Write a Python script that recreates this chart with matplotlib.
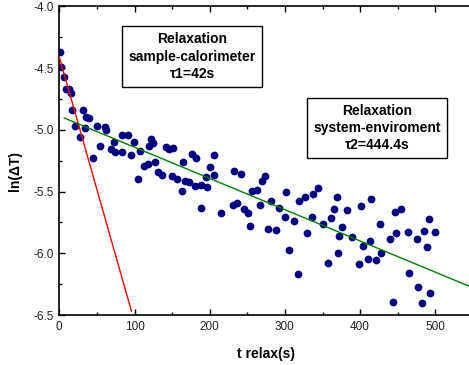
import matplotlib
matplotlib.use("Agg")
import matplotlib.pyplot as plt
from matplotlib.ticker import MultipleLocator

plt.rcParams['font.family'] = ['Liberation Sans', 'DejaVu Sans']
plt.rcParams['axes.unicode_minus'] = False

# ---- data ----
t_relax = [1, 2.3, 6.3, 8.9, 12.9, 15.2, 16.5, 31.1, 21.3, 35.5, 39.9, 34.2, 27.5, 49.7,
           60.8, 62.1, 54.1, 45.2, 68.1, 72.7, 74.1, 83.0, 91.4, 84.0, 99.3, 94.9, 107.3,
           104.0, 121.5, 125.0, 119.7, 112.6, 117.6, 127.3, 130.6, 136.6, 141.5, 145.9,
           151.6, 150.5, 156.5, 164.9, 167.6, 172.5, 162.8, 176.1, 181.8, 180.5, 188.4,
           196.0, 188.4, 194.7, 200.4, 205.7, 205.1, 214.6, 232.3, 241.2, 231.4, 236.3,
           245.6, 251.3, 253.6, 256.3, 262.5, 269.1, 273.5, 267.2, 281.5, 277.9, 287.8,
           292.4, 300.1, 301.5, 305.9, 312.5, 318.8, 326.1, 337.4, 343.6, 335.6, 329.8,
           317.0, 350.0, 360.9, 365.0, 368.9, 382.2, 401.2, 376.3, 371.5, 388.8, 403.9,
           370.2, 357.3, 398.5, 414.9, 413.6, 410.1, 421.1, 427.8, 426.1, 446.4, 454.4,
           447.7, 440.2, 463.7, 475.9, 485.4, 491.6, 499.6, 489.6, 465.0, 477.4, 492.6,
           443.4, 481.9]
ln_dT = [-4.373, -4.489, -4.571, -4.673, -4.668, -4.705, -4.840, -4.840, -4.968, -4.895,
         -4.908, -4.984, -5.062, -4.970, -4.981, -5.002, -5.130, -5.232, -5.152, -5.097,
         -5.181, -5.045, -5.045, -5.183, -5.100, -5.205, -5.173, -5.400, -5.078, -5.110,
         -5.130, -5.292, -5.278, -5.264, -5.340, -5.367, -5.138, -5.156, -5.151, -5.371,
         -5.397, -5.259, -5.416, -5.424, -5.497, -5.199, -5.232, -5.454, -5.446, -5.460,
         -5.632, -5.383, -5.300, -5.201, -5.367, -5.675, -5.332, -5.359, -5.610, -5.597,
         -5.644, -5.678, -5.776, -5.497, -5.489, -5.417, -5.371, -5.610, -5.575, -5.807,
         -5.813, -5.637, -5.705, -5.503, -5.975, -5.740, -5.578, -5.541, -5.517, -5.468,
         -5.705, -5.835, -6.169, -5.759, -5.718, -5.643, -5.543, -5.651, -5.616, -5.791,
         -5.860, -5.870, -5.940, -5.999, -6.078, -6.086, -5.564, -5.904, -6.050, -6.056,
         -5.995, -5.767, -5.666, -5.643, -5.833, -5.886, -5.825, -5.886, -5.819, -5.722,
         -5.827, -5.953, -6.159, -6.277, -6.321, -6.394, -6.402]

fit1_t = [0, 96]          # fast relaxation (tau1)
fit1_y = [-4.41, -6.47]
fit2_t = [6.7, 545]       # slow relaxation (tau2)
fit2_y = [-4.905, -6.267]

box1_text = "Relaxation\nsample-calorimeter\n\u03c41=42s"
box2_text = "Relaxation\nsystem-enviroment\n\u03c42=444.4s"

x_label = "t relax(s)"
y_label = "ln(\u0394T)"

# ---- figure ----
fig = plt.figure(figsize=(4.69, 3.65), dpi=100)
ax = fig.add_axes([59.3 / 469, 1 - 315 / 365, 413.6 / 469, 308.7 / 365])

ax.plot(t_relax, ln_dT, linestyle='none', marker='o', markersize=5.6,
        color='#000080', markeredgewidth=0, zorder=2)
ax.plot(fit1_t, fit1_y, color='#ff0000', linewidth=1.0, zorder=3)
ax.plot(fit2_t, fit2_y, color='#008000', linewidth=1.0, zorder=3)

ax.set_xlim(0, 550)
ax.set_ylim(-6.5, -4.0)
ax.xaxis.set_major_locator(MultipleLocator(100))
ax.xaxis.set_minor_locator(MultipleLocator(50))
ax.yaxis.set_major_locator(MultipleLocator(0.5))
ax.yaxis.set_minor_locator(MultipleLocator(0.25))
ax.set_yticks([-4.0, -4.5, -5.0, -5.5, -6.0, -6.5])
ax.set_yticklabels(['-4.0', '-4.5', '-5.0', '-5.5', '-6.0', '-6.5'])

ax.tick_params(axis='both', which='both', direction='in', top=True, right=False,
               labelsize=8.5, width=1.0, color='black', labelcolor='#222222')
ax.tick_params(axis='both', which='major', length=4, pad=4)
ax.tick_params(axis='both', which='minor', length=2.2)
for s in ax.spines.values():
    s.set_linewidth(1.2)
    s.set_color('black')

ax.set_xlabel(x_label, fontsize=10, fontweight='bold')
ax.xaxis.set_label_coords(0.5, -0.105)
ax.set_ylabel(y_label, fontsize=10, fontweight='bold')
ax.yaxis.set_label_coords(-0.090, 0.466)

bbox = dict(boxstyle='square,pad=0.45', facecolor='white', edgecolor='black', linewidth=1.0)
fig.text(192.2 / 469, 1 - 56.7 / 365, box1_text, ha='center', va='center',
         fontsize=10, fontweight='bold', linespacing=1.3, bbox=bbox, multialignment='center')
fig.text(377 / 469, 1 - 127.8 / 365, box2_text, ha='center', va='center',
         fontsize=10, fontweight='bold', linespacing=1.25, bbox=bbox, multialignment='center')

fig.savefig("out.png", dpi=100)
